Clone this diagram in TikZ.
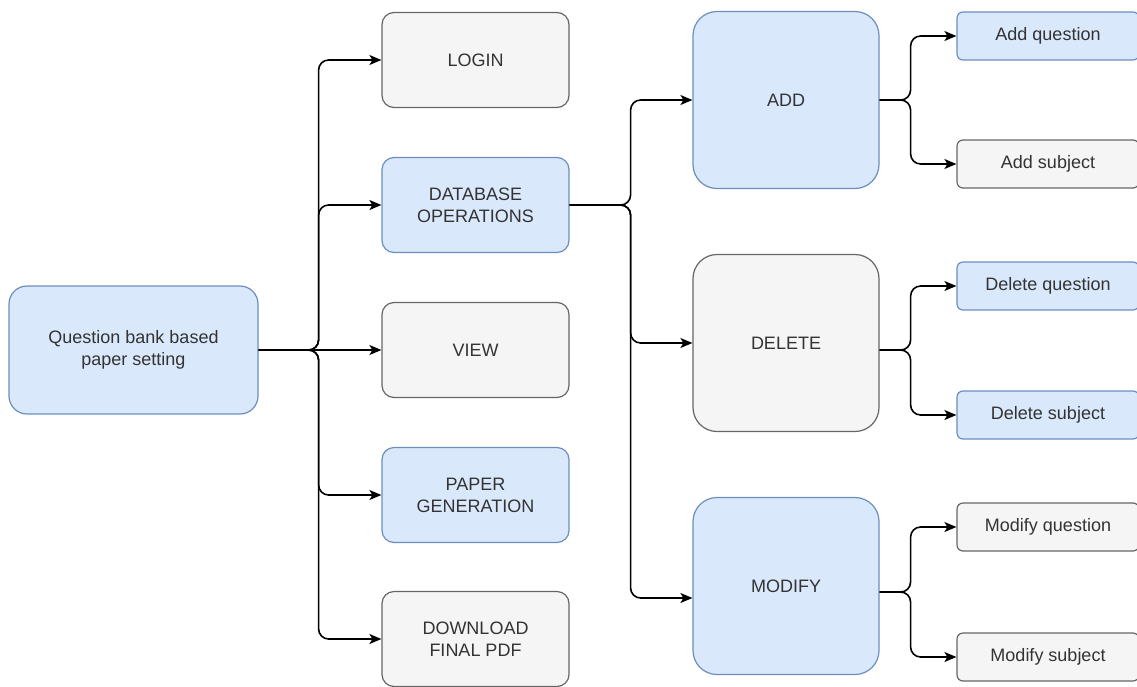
\documentclass[tikz,border=0pt]{standalone}
\usepackage{fontspec}
\setmainfont{Liberation Sans}
\usetikzlibrary{arrows.meta}
\definecolor{bluefill}{HTML}{DAE8FC}
\definecolor{bluedraw}{HTML}{6C8EBF}
\definecolor{grayfill}{HTML}{F5F5F5}
\definecolor{graydraw}{HTML}{666666}
\definecolor{txt}{HTML}{333333}
\tikzset{
  box/.style={rectangle,line width=1.2pt,text=txt,align=center,
    font=\fontsize{18}{22}\selectfont,inner sep=0pt},
  bluebox/.style={box,fill=bluefill,draw=bluedraw},
  graybox/.style={box,fill=grayfill,draw=graydraw},
  lvlone/.style={minimum width=187pt,minimum height=95pt,rounded corners=12pt},
  lvltwo/.style={minimum width=186pt,minimum height=177pt,rounded corners=24pt},
  lvlthree/.style={minimum width=182pt,minimum height=48pt,rounded corners=6pt},
  link/.style={line width=1.6pt,black,rounded corners=10pt,
    -{Stealth[length=12pt,width=10pt,inset=3pt]}}
}
\begin{document}
\begin{tikzpicture}[x=1pt,y=-1pt]
\useasboundingbox (0,0) rectangle (1137,686);
\node[bluebox,minimum width=249pt,minimum height=128pt,rounded corners=18pt] (root) at (133.5,350) {Question bank based\\paper setting};
\node[graybox,lvlone] (login) at (475.5,60) {LOGIN};
\node[bluebox,lvlone] (db) at (475.5,205) {DATABASE\\OPERATIONS};
\node[graybox,lvlone] (view) at (475.5,350) {VIEW};
\node[bluebox,lvlone] (paper) at (475.5,495) {PAPER\\GENERATION};
\node[graybox,lvlone] (pdf) at (475.5,639) {DOWNLOAD\\FINAL PDF};
\node[bluebox,lvltwo] (add) at (786,100) {ADD};
\node[graybox,lvltwo] (delete) at (786,343) {DELETE};
\node[bluebox,lvltwo] (modify) at (786,586) {MODIFY};
\node[bluebox,lvlthree] (addq) at (1048,36) {Add question};
\node[graybox,lvlthree] (adds) at (1048,164) {Add subject};
\node[bluebox,lvlthree] (delq) at (1048,286) {Delete question};
\node[bluebox,lvlthree] (dels) at (1048,415) {Delete subject};
\node[graybox,lvlthree] (modq) at (1048,527) {Modify question};
\node[graybox,lvlthree] (mods) at (1048,657) {Modify subject};
% root branches
\draw[link] (root.east) -- ++(60,0) |- (login.west);
\draw[link] (root.east) -- ++(60,0) |- (db.west);
\draw[link] (root.east) -- (view.west);
\draw[link] (root.east) -- ++(60,0) |- (paper.west);
\draw[link] (root.east) -- ++(60,0) |- (pdf.west);
% database operations
\draw[link] (db.east) -- ++(61,0) |- (add.west);
\draw[link] (db.east) -- ++(61,0) |- (delete.west);
\draw[link] (db.east) -- ++(61,0) |- ([yshift=-12pt]modify.west);
% leaves
\draw[link] (add.east) -- ++(31,0) |- (addq.west);
\draw[link] (add.east) -- ++(31,0) |- (adds.west);
\draw[link] ([yshift=-7pt]delete.east) -- ++(31,0) |- (delq.west);
\draw[link] ([yshift=-7pt]delete.east) -- ++(31,0) |- (dels.west);
\draw[link] ([yshift=-6pt]modify.east) -- ++(31,0) |- (modq.west);
\draw[link] ([yshift=-6pt]modify.east) -- ++(31,0) |- (mods.west);
\end{tikzpicture}
\end{document}
